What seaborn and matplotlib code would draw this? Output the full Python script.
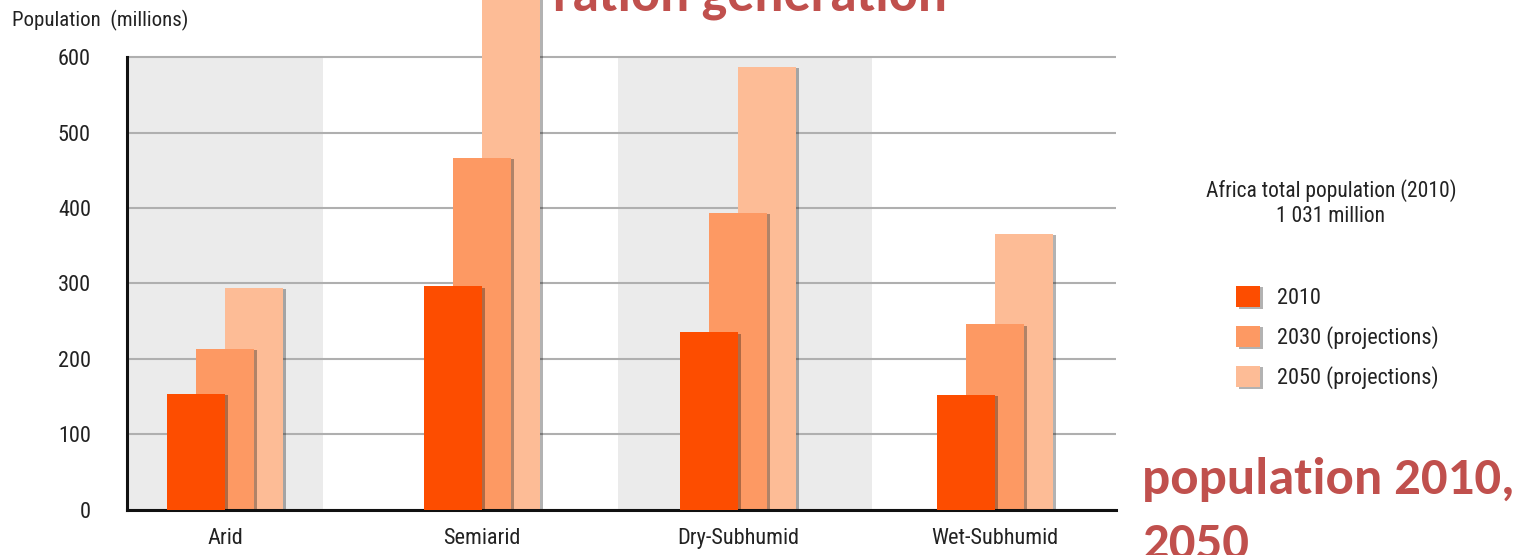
import matplotlib
matplotlib.use("Agg")
import matplotlib.pyplot as plt
import matplotlib.patheffects as pe
import numpy as np
import pandas as pd
import seaborn as sns

# values (millions of people)
zones = ["Arid", "Semiarid", "Dry-Subhumid", "Wet-Subhumid"]
pop_2010 = [154, 296, 235, 152]
pop_2030 = [213, 467, 394, 246]
pop_2050 = [294, 700, 587, 366]
series_names = ["2010", "2030 (projections)", "2050 (projections)"]
series_colors = ["#FD4D00", "#FD9963", "#FDBC96"]

sns.set_theme(style="white")
plt.rcParams["font.family"] = ["Roboto Condensed", "DejaVu Sans"]
plt.rcParams["text.color"] = "#222222"

fig = plt.figure(figsize=(15.22, 5.55), dpi=100)
ax = fig.add_axes([127 / 1522, 45.4 / 555, 989 / 1522, 509.6 / 555])

pos = np.arange(len(zones))
bar_w = 0.226
shadow = [pe.withSimplePatchShadow(offset=(2, -1), shadow_rgbFace="black", alpha=0.3)]

# light grey bands behind Arid and Dry-Subhumid
ax.axvspan(-0.382, 0.382, ymax=600 / 676, color="#EBEBEB", lw=0, zorder=0)
ax.axvspan(1.531, 2.520, ymax=600 / 676, color="#EBEBEB", lw=0, zorder=0)

# draw back to front so the 2010 bar sits in front
all_series = [pop_2010, pop_2030, pop_2050]
offsets = [-bar_w / 2, 0, bar_w / 2]
for i in [2, 1, 0]:
    df = pd.DataFrame({"x": pos + offsets[i], "y": all_series[i]})
    sns.barplot(data=df, x="x", y="y", native_scale=True, width=bar_w,
                color=series_colors[i], saturation=1, linewidth=0,
                label=series_names[i], ax=ax)
    for p in ax.patches[-len(zones):]:
        p.set_path_effects(shadow)
        p.set_zorder(3 - i)

ax.set_xlim(-0.382, 3.471)
ax.set_ylim(0, 676)
ax.set_yticks(range(0, 700, 100))
ax.set_xticks(pos)
ax.set_xticklabels(zones)
ax.set_xlabel("")
ax.set_ylabel("")
ax.yaxis.grid(True, color="#AFAFAF", lw=1.5)
ax.set_axisbelow(True)
ax.tick_params(axis="both", length=0, labelsize=16, colors="#222222")
ax.tick_params(axis="y", pad=26)
ax.tick_params(axis="x", pad=13)

for s in ["top", "right"]:
    ax.spines[s].set_visible(False)
ax.spines["left"].set_bounds(0, 600)
ax.spines["left"].set_color("#111111")
ax.spines["left"].set_linewidth(2.2)
ax.spines["bottom"].set_color("#111111")
ax.spines["bottom"].set_linewidth(2.2)

fig.text(12 / 1522, 1 - 20 / 555, "Population  (millions)", fontsize=15,
         ha="left", va="center")

fig.text(1331 / 1522, 1 - 203 / 555, "Africa total population (2010)\n1 031 million",
         fontsize=15.5, ha="center", va="center", multialignment="center", linespacing=1.2)

handles, labels = ax.get_legend_handles_labels()
order = [labels.index(n) for n in series_names]
leg = ax.legend([handles[k] for k in order], [labels[k] for k in order],
                loc="upper left", bbox_to_anchor=(1236 / 1522, 1 - 286 / 555),
                bbox_transform=fig.transFigure, frameon=False, fontsize=16,
                handlelength=1.1, handleheight=1.1, handletextpad=0.75,
                labelspacing=0.75, borderpad=0, borderaxespad=0)

# slide text around the chart, partly cut off by the crop
red_font = dict(fontweight="bold", color="#C0504D",
                family=["Carlito", "DejaVu Sans"], ha="left", va="baseline")
fig.text(553 / 1522, 1 - 11 / 555, "ration generation", fontsize=39, **red_font)
fig.text(1142 / 1522, 1 - 494 / 555, "population 2010,", fontsize=38, **red_font)
fig.text(1142 / 1522, 1 - 559 / 555, "2050", fontsize=38, **red_font)

fig.savefig("out.png", dpi=100)
